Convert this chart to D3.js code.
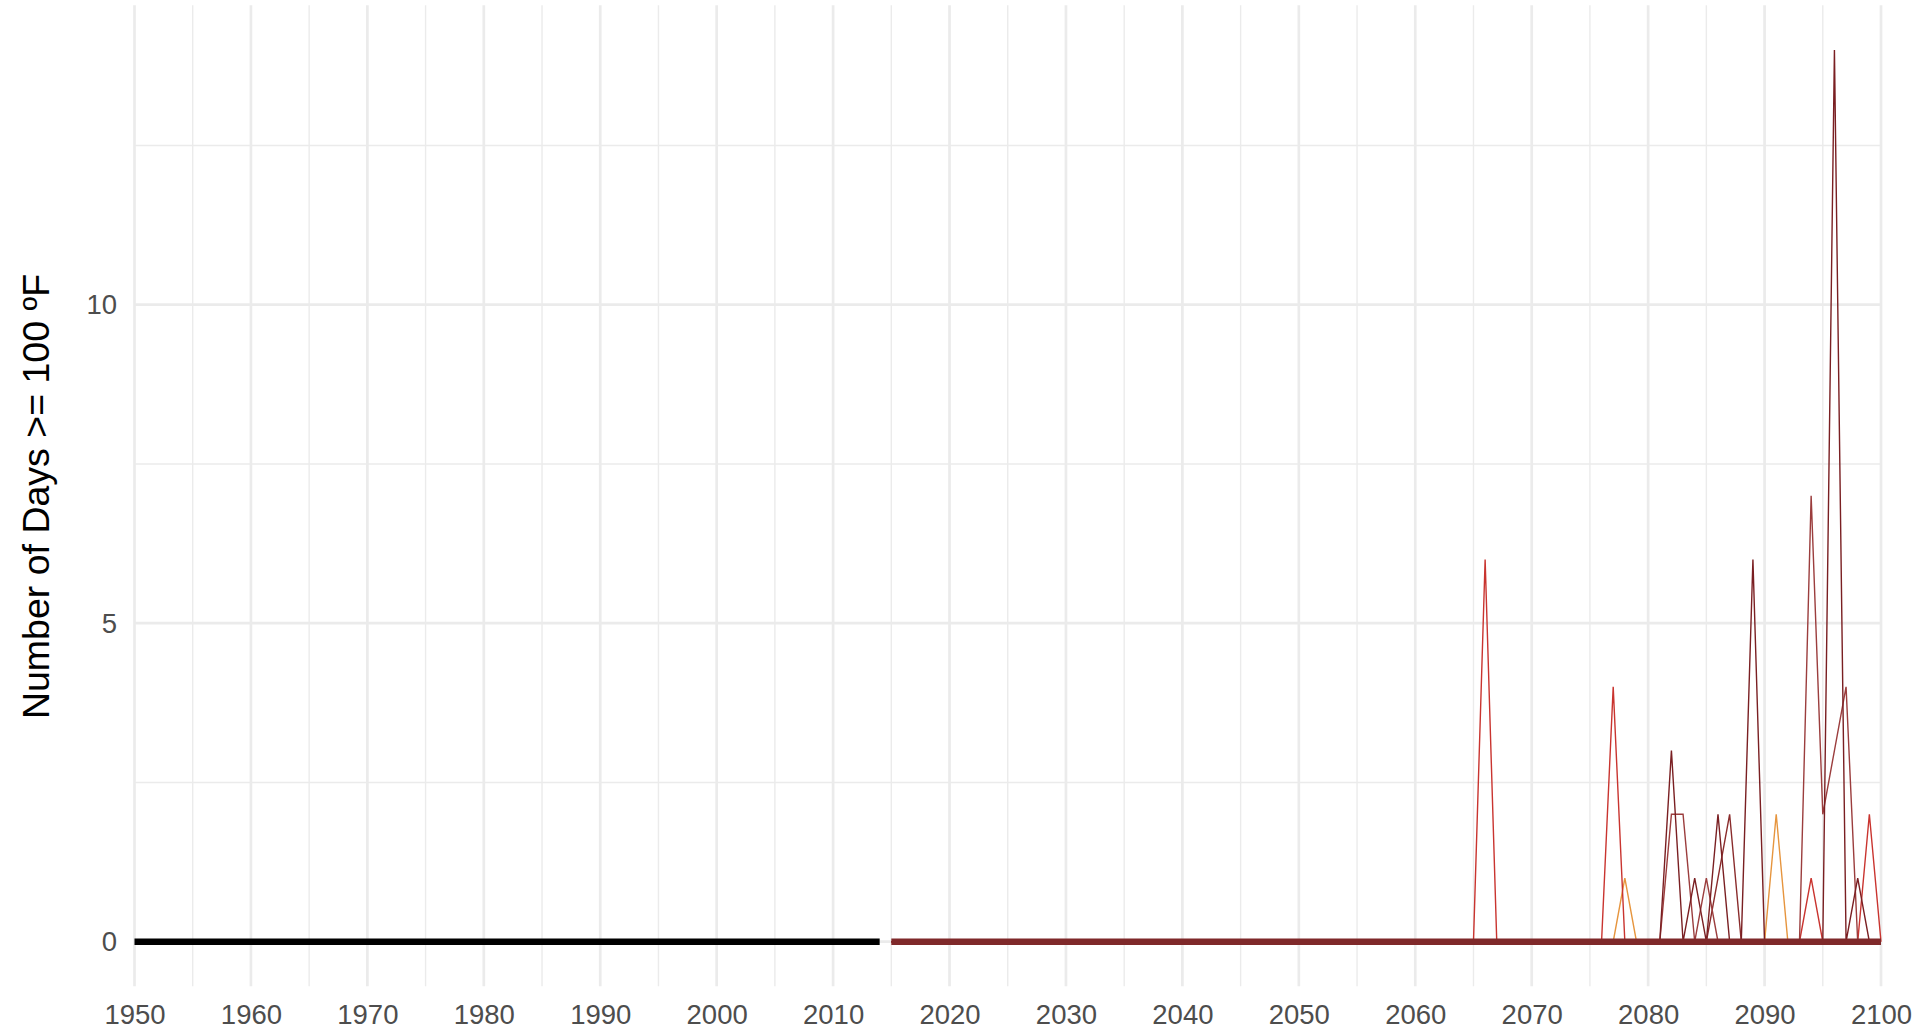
<!DOCTYPE html>
<html>
<head>
<meta charset="utf-8">
<script src="https://cdn.jsdelivr.net/npm/d3@7"></script>
<style>
  body { margin: 0; background: #fff; }
  text { font-family: "Liberation Sans", Arial, Helvetica, sans-serif; }
</style>
</head>
<body>
<div id="chart"></div>
<script>
// years
var histYears = d3.range(1950, 2015);   // 1950..2014
var projYears = d3.range(2015, 2101);   // 2015..2100

// observed days >= 100F (1950-2014)
var histValues = [
  0, 0, 0, 0, 0, 0, 0, 0, 0, 0,   // 1950s
  0, 0, 0, 0, 0, 0, 0, 0, 0, 0,   // 1960s
  0, 0, 0, 0, 0, 0, 0, 0, 0, 0,   // 1970s
  0, 0, 0, 0, 0, 0, 0, 0, 0, 0,   // 1980s
  0, 0, 0, 0, 0, 0, 0, 0, 0, 0,   // 1990s
  0, 0, 0, 0, 0, 0, 0, 0, 0, 0,   // 2000s
  0, 0, 0, 0, 0                   // 2010-2014
];

// projected ensemble line (thick)
var projMedian = [
  0, 0, 0, 0, 0,                  // 2015-2019
  0, 0, 0, 0, 0, 0, 0, 0, 0, 0,   // 2020s
  0, 0, 0, 0, 0, 0, 0, 0, 0, 0,   // 2030s
  0, 0, 0, 0, 0, 0, 0, 0, 0, 0,   // 2040s
  0, 0, 0, 0, 0, 0, 0, 0, 0, 0,   // 2050s
  0, 0, 0, 0, 0, 0, 0, 0, 0, 0,   // 2060s
  0, 0, 0, 0, 0, 0, 0, 0, 0, 0,   // 2070s
  0, 0, 0, 0, 0, 0, 0, 0, 0, 0,   // 2080s
  0, 0, 0, 0, 0, 0, 0, 0, 0, 0,   // 2090s
  0                               // 2100
];

// individual model runs (thin lines), 2015-2100
var modelRed = [
  0, 0, 0, 0, 0,
  0, 0, 0, 0, 0, 0, 0, 0, 0, 0,
  0, 0, 0, 0, 0, 0, 0, 0, 0, 0,
  0, 0, 0, 0, 0, 0, 0, 0, 0, 0,
  0, 0, 0, 0, 0, 0, 0, 0, 0, 0,
  0, 0, 0, 0, 0, 0, 6, 0, 0, 0,
  0, 0, 0, 0, 0, 0, 0, 4, 0, 0,
  0, 0, 0, 0, 0, 0, 0, 0, 0, 0,
  0, 0, 0, 0, 1, 0, 0, 0, 0, 2,
  0
];
var modelOrange = [
  0, 0, 0, 0, 0,
  0, 0, 0, 0, 0, 0, 0, 0, 0, 0,
  0, 0, 0, 0, 0, 0, 0, 0, 0, 0,
  0, 0, 0, 0, 0, 0, 0, 0, 0, 0,
  0, 0, 0, 0, 0, 0, 0, 0, 0, 0,
  0, 0, 0, 0, 0, 0, 0, 0, 0, 0,
  0, 0, 0, 0, 0, 0, 0, 0, 1, 0,
  0, 0, 0, 0, 0, 0, 0, 0, 0, 0,
  0, 2, 0, 0, 0, 0, 0, 0, 0, 0,
  0
];
var modelDark = [
  0, 0, 0, 0, 0,
  0, 0, 0, 0, 0, 0, 0, 0, 0, 0,
  0, 0, 0, 0, 0, 0, 0, 0, 0, 0,
  0, 0, 0, 0, 0, 0, 0, 0, 0, 0,
  0, 0, 0, 0, 0, 0, 0, 0, 0, 0,
  0, 0, 0, 0, 0, 0, 0, 0, 0, 0,
  0, 0, 0, 0, 0, 0, 0, 0, 0, 0,
  0, 0, 3, 0, 1, 0, 2, 0, 0, 6,
  0, 0, 0, 0, 0, 0, 14, 0, 1, 0,
  0
];
var modelBrown = [
  0, 0, 0, 0, 0,
  0, 0, 0, 0, 0, 0, 0, 0, 0, 0,
  0, 0, 0, 0, 0, 0, 0, 0, 0, 0,
  0, 0, 0, 0, 0, 0, 0, 0, 0, 0,
  0, 0, 0, 0, 0, 0, 0, 0, 0, 0,
  0, 0, 0, 0, 0, 0, 0, 0, 0, 0,
  0, 0, 0, 0, 0, 0, 0, 0, 0, 0,
  0, 0, 2, 2, 0, 1, 0, 0, 0, 0,
  0, 0, 0, 0, 7, 2, 3, 4, 0, 0,
  0
];
var modelMaroon = [
  0, 0, 0, 0, 0,
  0, 0, 0, 0, 0, 0, 0, 0, 0, 0,
  0, 0, 0, 0, 0, 0, 0, 0, 0, 0,
  0, 0, 0, 0, 0, 0, 0, 0, 0, 0,
  0, 0, 0, 0, 0, 0, 0, 0, 0, 0,
  0, 0, 0, 0, 0, 0, 0, 0, 0, 0,
  0, 0, 0, 0, 0, 0, 0, 0, 0, 0,
  0, 0, 0, 0, 0, 0, 1, 2, 0, 0,
  0, 0, 0, 0, 0, 0, 0, 0, 0, 0,
  0
];

// tick labels
var xTicks = [1950, 1960, 1970, 1980, 1990, 2000, 2010, 2020, 2030, 2040, 2050, 2060, 2070, 2080, 2090, 2100];
var xMinor = [1955, 1965, 1975, 1985, 1995, 2005, 2015, 2025, 2035, 2045, 2055, 2065, 2075, 2085, 2095];
var yTicks = [0, 5, 10];
var yMinor = [2.5, 7.5, 12.5];

var models = [
  { values: modelOrange, color: "#e6953e" },
  { values: modelRed,    color: "#c9342f" },
  { values: modelMaroon, color: "#8a2c2c" },
  { values: modelBrown,  color: "#9b3d3d" },
  { values: modelDark,   color: "#7a1f22" }
];

var width = 1917, height = 1033;
var panel = { left: 134.5, right: 1881, top: 5.3, bottom: 986.3 };

var svg = d3.select("#chart")
  .append("svg")
    .attr("width", width)
    .attr("height", height);

var x = d3.scaleLinear()
  .domain([1950, 2100])
  .range([panel.left, panel.right]);

// 5% padding like ggplot on the 0..14 data range
var y = d3.scaleLinear()
  .domain([-0.7, 14.7])
  .range([panel.bottom, panel.top]);

// grid
var grid = svg.append("g");
grid.selectAll(".xminor").data(xMinor).enter().append("line")
  .attr("x1", d => x(d)).attr("x2", d => x(d))
  .attr("y1", panel.top).attr("y2", panel.bottom)
  .attr("stroke", "#ebebeb").attr("stroke-width", 1.4);
grid.selectAll(".yminor").data(yMinor).enter().append("line")
  .attr("x1", panel.left).attr("x2", panel.right)
  .attr("y1", d => y(d)).attr("y2", d => y(d))
  .attr("stroke", "#ebebeb").attr("stroke-width", 1.4);
grid.selectAll(".xmajor").data(xTicks).enter().append("line")
  .attr("x1", d => x(d)).attr("x2", d => x(d))
  .attr("y1", panel.top).attr("y2", panel.bottom)
  .attr("stroke", "#ebebeb").attr("stroke-width", 2.7);
grid.selectAll(".ymajor").data(yTicks).enter().append("line")
  .attr("x1", panel.left).attr("x2", panel.right)
  .attr("y1", d => y(d)).attr("y2", d => y(d))
  .attr("stroke", "#ebebeb").attr("stroke-width", 2.7);

var line = d3.line()
  .x(d => x(d[0]))
  .y(d => y(d[1]));

// thin model lines
models.forEach(function(m) {
  svg.append("path")
    .datum(projYears.map((yr, i) => [yr, m.values[i]]))
    .attr("fill", "none")
    .attr("stroke", m.color)
    .attr("stroke-width", 1.4)
    .attr("stroke-linejoin", "miter")
    .attr("d", line);
});

// observed
svg.append("path")
  .datum(histYears.map((yr, i) => [yr, histValues[i]]))
  .attr("fill", "none")
  .attr("stroke", "#000")
  .attr("stroke-width", 6.5)
  .attr("d", line);

// projection summary
svg.append("path")
  .datum(projYears.map((yr, i) => [yr, projMedian[i]]))
  .attr("fill", "none")
  .attr("stroke", "#7f292a")
  .attr("stroke-width", 6.5)
  .attr("d", line);

// axes
var xAxis = svg.append("g")
  .attr("transform", "translate(0," + panel.bottom + ")")
  .call(d3.axisBottom(x).tickValues(xTicks).tickFormat(d3.format("d")).tickSize(0).tickPadding(18));
xAxis.select(".domain").remove();
xAxis.selectAll("text")
  .attr("font-size", 27.5)
  .attr("font-family", "Liberation Sans, Arial, sans-serif")
  .attr("fill", "#4d4d4d");

var yAxis = svg.append("g")
  .attr("transform", "translate(" + panel.left + ",0)")
  .call(d3.axisLeft(y).tickValues(yTicks).tickSize(0).tickPadding(17.5));
yAxis.select(".domain").remove();
yAxis.selectAll("text")
  .attr("font-size", 27.5)
  .attr("font-family", "Liberation Sans, Arial, sans-serif")
  .attr("fill", "#4d4d4d");

// y title
svg.append("text")
  .attr("text-anchor", "middle")
  .attr("transform", "translate(49," + 496.5 + ")rotate(-90)")
  .attr("font-size", 37.5)
  .attr("fill", "#000")
  .text("Number of Days >= 100 \u00baF");
</script>
</body>
</html>
